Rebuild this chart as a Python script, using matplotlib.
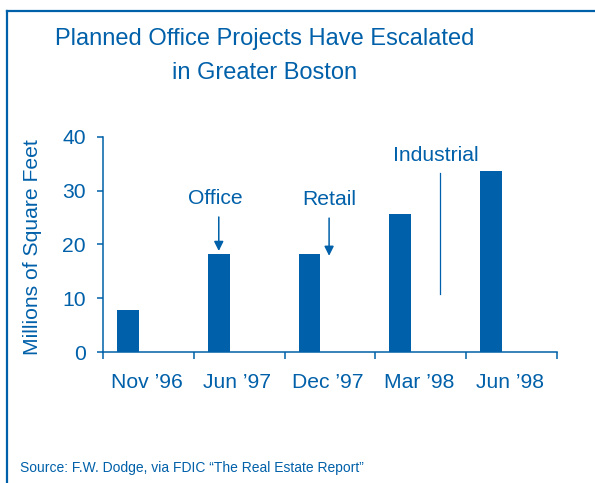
import matplotlib
matplotlib.use("Agg")
import matplotlib.pyplot as plt
from matplotlib.lines import Line2D

plt.rcParams['font.family'] = ['Liberation Sans', 'DejaVu Sans']

categories = ["Nov \u201996", "Jun \u201997", "Dec \u201997", "Mar \u201998", "Jun \u201998"]
values = [7.9, 18.2, 18.2, 25.7, 33.6]
yticks = [0, 10, 20, 30, 40]

BLUE = '#0060A9'
FS = 15.2

fig = plt.figure(figsize=(5.95, 4.83), dpi=100)
ax = fig.add_axes([103/595, 1-352.3/483, (557-103)/595, (352.3-136.7)/483])

xs = list(range(len(categories)))
ax.bar([x - 0.225 for x in xs], values, width=0.24, color=BLUE, linewidth=0)

ax.set_xlim(-0.5, len(categories) - 0.5)
ax.set_ylim(0, 40)
ax.set_yticks(yticks)
ax.set_yticklabels([str(t) for t in yticks])
ax.set_xticks([x - 0.02 for x in xs])
ax.set_xticklabels(categories)
ax.set_xticks([x - 0.5 for x in range(len(categories) + 1)], minor=True)

for s in ['top', 'right']:
    ax.spines[s].set_visible(False)
for s in ['left', 'bottom']:
    ax.spines[s].set_color(BLUE)
    ax.spines[s].set_linewidth(1.1)

ax.tick_params(axis='x', which='major', length=0, pad=15, labelsize=FS, labelcolor=BLUE)
ax.tick_params(axis='x', which='minor', length=5, width=1.1, color=BLUE, direction='out')
ax.tick_params(axis='y', length=4.3, width=1.1, color=BLUE, pad=8, labelsize=FS, labelcolor=BLUE)

ax.set_ylabel("Millions of Square Feet", fontsize=FS, color=BLUE)
ax.yaxis.label.set_verticalalignment('center')
ax.yaxis.set_label_coords((33 - 103) / 454, 0.49)

# annotations
ax.text(0.735, 28.6, "Office", ha='center', va='center', fontsize=FS, color=BLUE)
ax.annotate("", xy=(0.775, 18.8), xytext=(0.775, 25.1),
            arrowprops=dict(arrowstyle='-|>', color=BLUE, lw=1.1, mutation_scale=14,
                            shrinkA=0, shrinkB=0))
ax.text(1.99, 28.3, "Retail", ha='center', va='center', fontsize=FS, color=BLUE)
ax.annotate("", xy=(1.99, 17.9), xytext=(1.99, 24.9),
            arrowprops=dict(arrowstyle='-|>', color=BLUE, lw=1.1, mutation_scale=14,
                            shrinkA=0, shrinkB=0))
ax.text(3.17, 36.6, "Industrial", ha='center', va='center', fontsize=FS, color=BLUE)
ax.plot([3.21, 3.21], [10.8, 33.3], color=BLUE, lw=0.9)

# title and source
fig.text(265/595, 1-39/483, "Planned Office Projects Have Escalated", ha='center', va='center',
         fontsize=17, color=BLUE)
fig.text(265/595, 1-73/483, "in Greater Boston", ha='center', va='center',
         fontsize=17, color=BLUE)
fig.text(20/595, 1-468/483, "Source: F.W. Dodge, via FDIC \u201cThe Real Estate Report\u201d",
         ha='left', va='center', fontsize=10, color=BLUE)

# frame
fig.add_artist(Line2D([7/595, 7/595], [0, 1-11/483], color=BLUE, lw=1.6, transform=fig.transFigure))
fig.add_artist(Line2D([7/595, 1], [1-11/483, 1-11/483], color=BLUE, lw=1.6, transform=fig.transFigure))

fig.savefig("out.png", dpi=100)
